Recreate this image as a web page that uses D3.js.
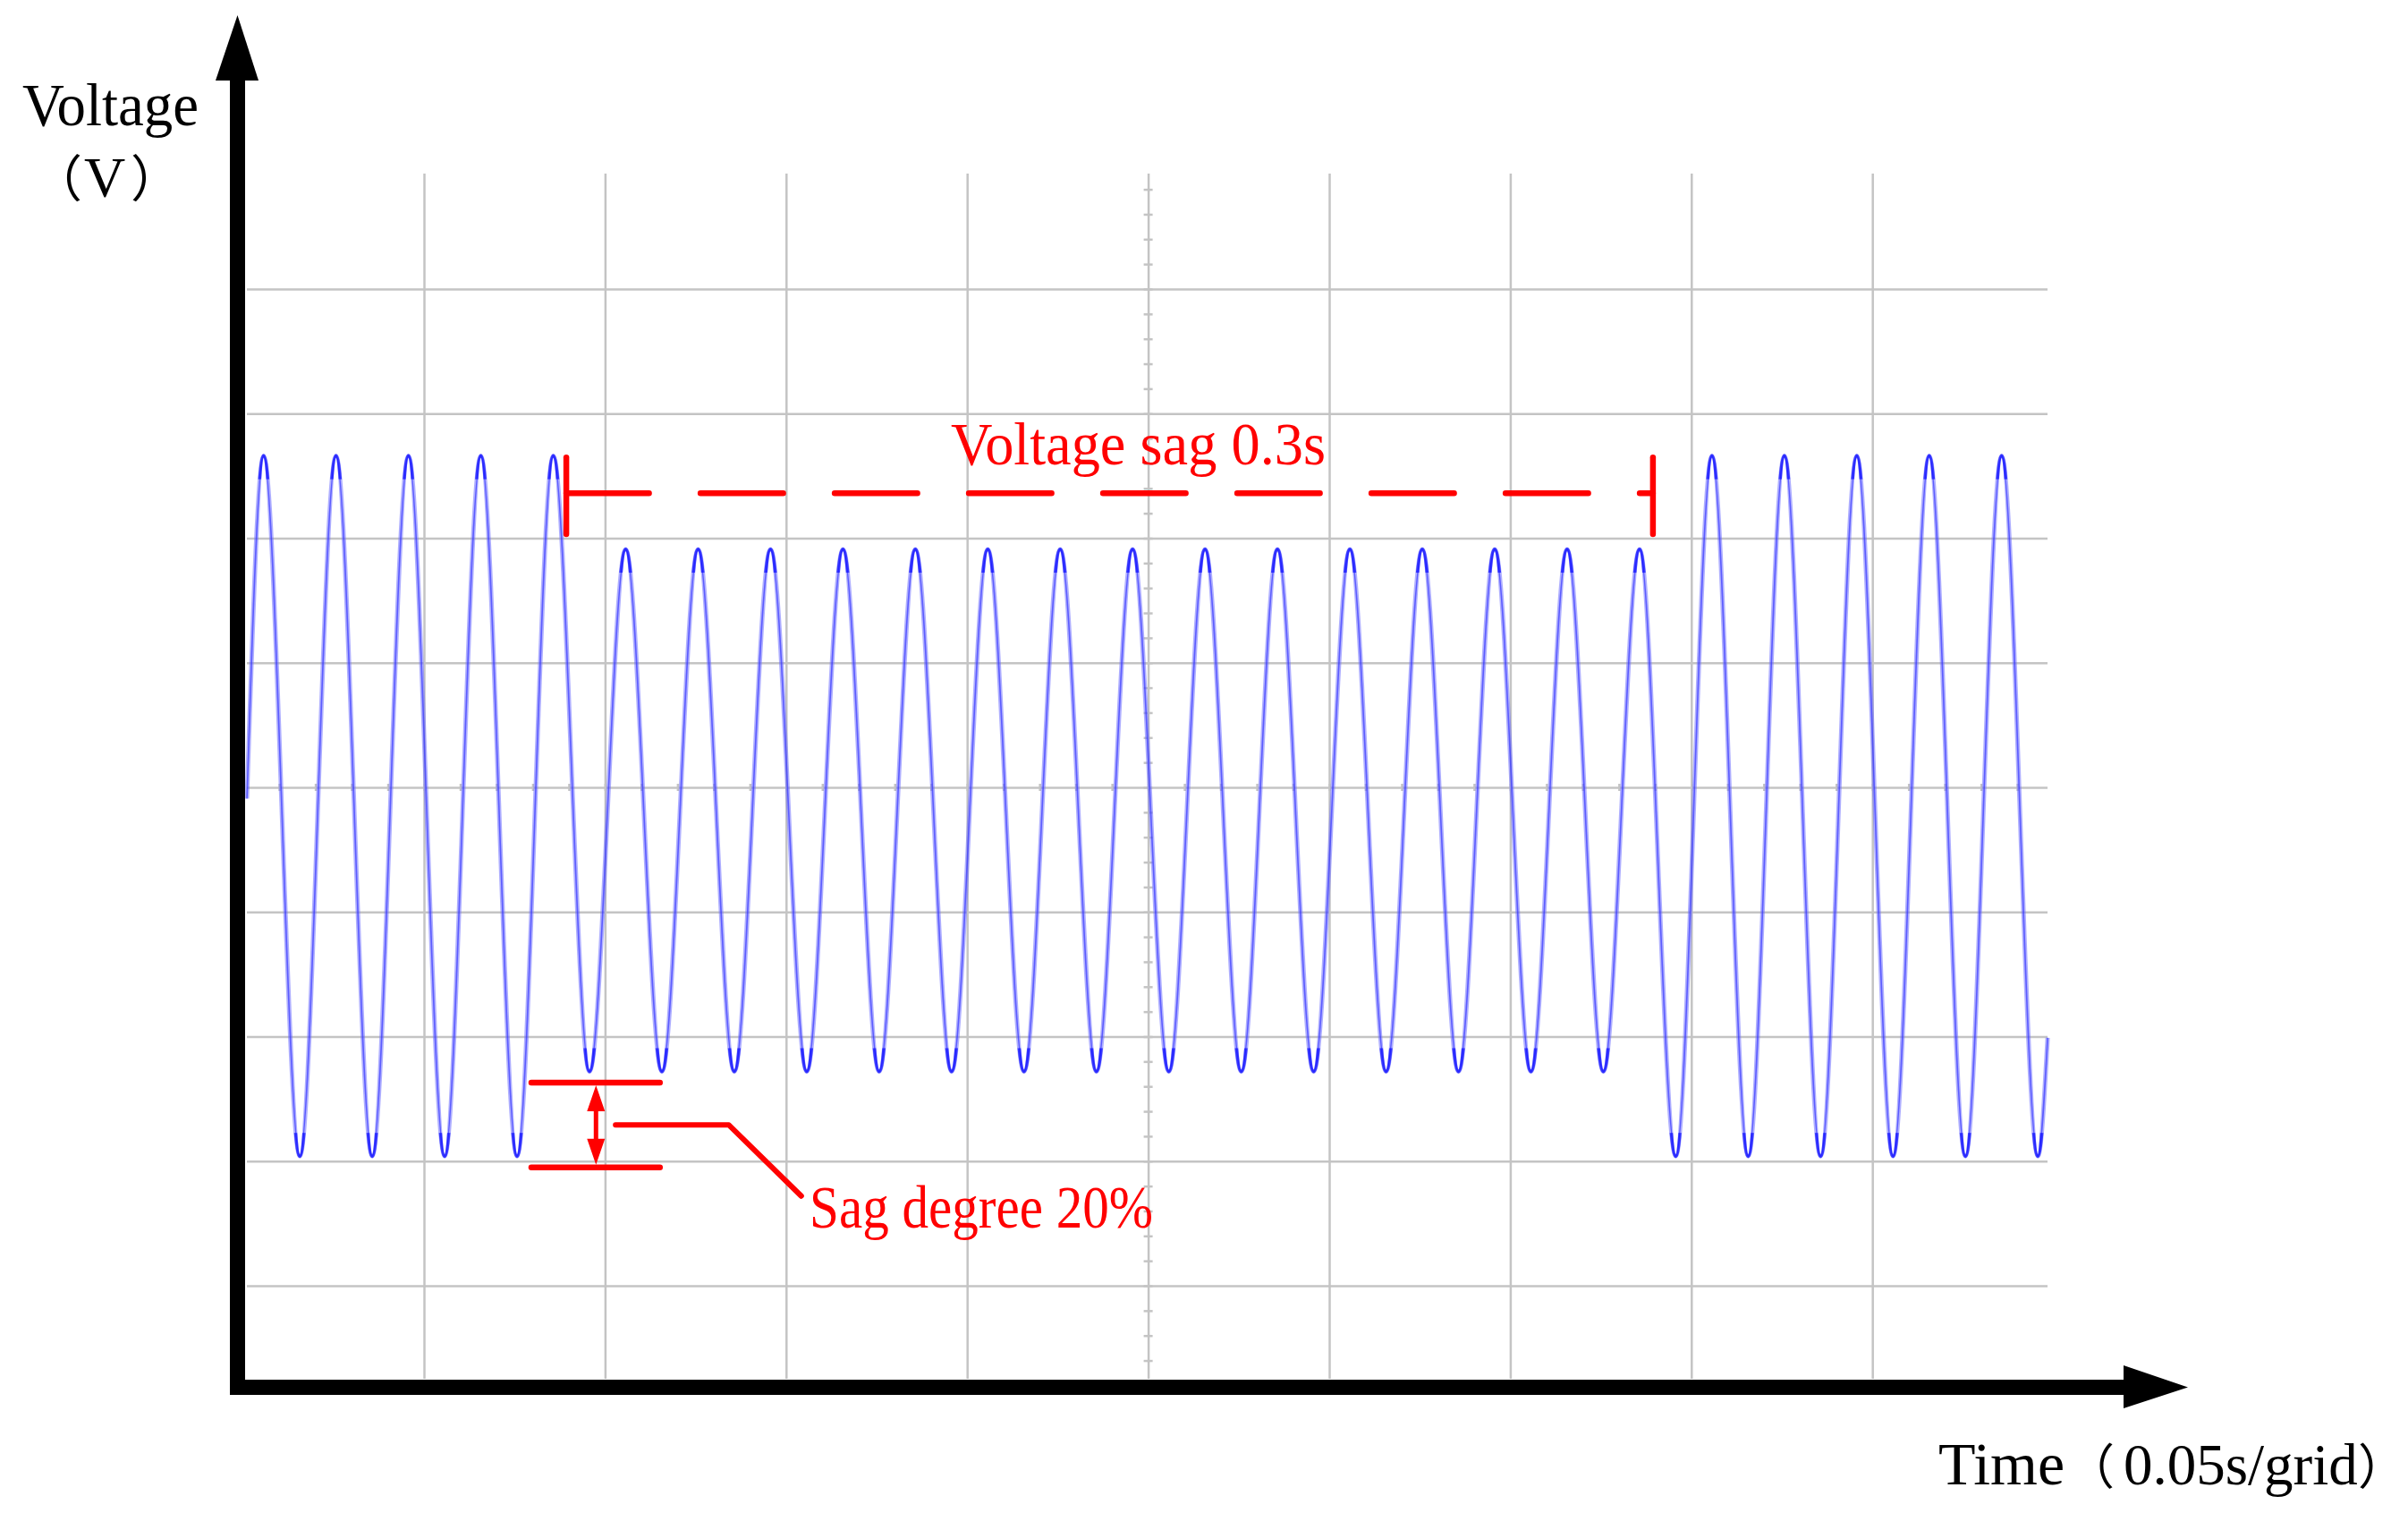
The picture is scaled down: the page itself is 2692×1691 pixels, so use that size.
<!DOCTYPE html>
<html>
<head>
<meta charset="utf-8">
<script src="https://cdn.jsdelivr.net/npm/d3@7"></script>
<style>
  html, body { margin: 0; padding: 0; background: #fff; }
  svg { display: block; }
</style>
</head>
<body>
<div id="chart"></div>
<script>
// ---- data (time in s, voltage in V, 100 V per grid) ----
const peakTimes = [0.0057, 0.0257, 0.0457, 0.0657, 0.0857, 0.1057, 0.1257, 0.1457, 0.1657, 0.1857,
  0.2057, 0.2257, 0.2457, 0.2657, 0.2857, 0.3057, 0.3257, 0.3457, 0.3657, 0.3857,
  0.4057, 0.4257, 0.4457, 0.4657, 0.4857];
const peakVolts = [266, 266, 266, 266, 266, 191, 191, 191, 191, 191,
  191, 191, 191, 191, 191, 191, 191, 191, 191, 191,
  266, 266, 266, 266, 266];
const troughTimes = [0.0157, 0.0357, 0.0557, 0.0757, 0.0957, 0.1157, 0.1357, 0.1557, 0.1757, 0.1957,
  0.2157, 0.2357, 0.2557, 0.2757, 0.2957, 0.3157, 0.3357, 0.3557, 0.3757, 0.3957,
  0.4157, 0.4357, 0.4557, 0.4757, 0.4957];
const troughVolts = [-296, -296, -296, -296, -228, -228, -228, -228, -228, -228,
  -228, -228, -228, -228, -228, -228, -228, -228, -228, -296,
  -296, -296, -296, -296, -296];
// first and last visible sample of the trace
const edgeTimes = [0.0011, 0.4984];
const edgeVolts = [-9, -201];

// grid values
const xGridTimes = [0.05, 0.10, 0.15, 0.20, 0.25, 0.30, 0.35, 0.40, 0.45];
const yGridVolts = [-400, -300, -200, -100, 0, 100, 200, 300, 400];

// annotation values
const sagSpan = [0.0893, 0.3894];       // start / end of the sag (0.3 s)
const sagBarVolts = [201, 267];        // vertical extent of the end bars
const sagLineVolt = 236;               // dashed line level
const degreeSpan = [0.0789, 0.1159];   // horizontal bars of the sag-degree marker
const degreeVolts = [-237, -305];      // upper / lower bar levels
const degreeArrowTime = 0.0975;
const leaderTimes = [0.1029, 0.1342, 0.1542];
const leaderVolts = [-271, -271, -328];

// ---- layout ----
const W = 2692, H = 1691;
const plotLeft = 276, plotRight = 2289, plotTop = 194, plotBottom = 1541;
const red = '#ff0000';
const gridColor = '#c4c4c4';
const serif = '"Liberation Serif", "Times New Roman", serif';
const cjk = '"Noto Sans CJK SC", sans-serif';

const svg = d3.select('#chart').append('svg')
  .attr('width', W)
  .attr('height', H)
  .attr('viewBox', `0 0 ${W} ${H}`);

// scales: 0.05 s and 100 V per grid
const x = d3.scaleLinear().domain([0, 0.5]).range([271.6, 2295.6]);
const y = d3.scaleLinear().domain([-400, 400]).range([1437, 323]);

// ---- grid ----
const gridX = d3.axisBottom(x)
  .tickValues(xGridTimes)
  .tickSize(-(plotBottom - plotTop))
  .tickFormat('');
svg.append('g')
  .attr('transform', `translate(0, ${plotBottom})`)
  .call(gridX)
  .call(g => g.select('.domain').remove())
  .call(g => g.selectAll('line').attr('stroke', gridColor).attr('stroke-width', 2.5));

const gridY = d3.axisLeft(y)
  .tickValues(yGridVolts)
  .tickSize(-(plotRight - plotLeft))
  .tickFormat('');
svg.append('g')
  .attr('transform', `translate(${plotLeft}, 0)`)
  .call(gridY)
  .call(g => g.select('.domain').remove())
  .call(g => g.selectAll('line').attr('stroke', gridColor).attr('stroke-width', 2.5));

// minor ticks on the centre cross (1/5 grid)
const minorV = d3.range(-460, 481, 20);
svg.append('g')
  .attr('transform', `translate(${x(0.25) + 5}, 0)`)
  .call(d3.axisLeft(y).tickValues(minorV).tickSize(10).tickFormat(''))
  .call(g => g.select('.domain').remove())
  .call(g => g.selectAll('line').attr('stroke', gridColor).attr('stroke-width', 2.5));

const minorT = d3.range(0.01, 0.495, 0.01);
svg.append('g')
  .attr('transform', `translate(0, ${y(0) + 4})`)
  .call(d3.axisTop(x).tickValues(minorT).tickSize(8).tickFormat(''))
  .call(g => g.select('.domain').remove())
  .call(g => g.selectAll('line').attr('stroke', gridColor).attr('stroke-width', 2.5));

// ---- voltage trace ----
const peaks = peakTimes.map((t, i) => ({ t, v: peakVolts[i], up: true }));
const troughs = troughTimes.map((t, i) => ({ t, v: troughVolts[i], up: false }));
const trace = d3.merge([
  peaks,
  troughs,
  edgeTimes.map((t, i) => ({ t, v: edgeVolts[i] }))
]).sort((a, b) => a.t - b.t);

const line = d3.line()
  .x(d => x(d.t))
  .y(d => y(d.v))
  .curve(d3.curveMonotoneX);

// the trace is densest at the turning points, so darken it there
const clip = svg.append('defs').append('clipPath').attr('id', 'tips');
clip.selectAll('rect')
  .data(peaks.concat(troughs))
  .join('rect')
  .attr('x', d => x(d.t) - 14)
  .attr('width', 28)
  .attr('y', d => d.up ? y(d.v) - 12 : y(d.v) - 26)
  .attr('height', 38);

svg.append('path')
  .datum(trace)
  .attr('d', line)
  .attr('fill', 'none')
  .attr('stroke', '#6e6eff')
  .attr('stroke-width', 5)
  .attr('stroke-opacity', 0.55);

svg.append('path')
  .datum(trace)
  .attr('d', line)
  .attr('fill', 'none')
  .attr('stroke', '#2424ff')
  .attr('stroke-width', 1.6)
  .attr('stroke-opacity', 0.6);

svg.append('path')
  .datum(trace)
  .attr('d', line)
  .attr('clip-path', 'url(#tips)')
  .attr('fill', 'none')
  .attr('stroke', '#1010ff')
  .attr('stroke-width', 4)
  .attr('stroke-opacity', 0.75);

// ---- axes with arrows ----
svg.append('rect')
  .attr('x', 257).attr('y', 88)
  .attr('width', 17).attr('height', 1559 - 88)
  .attr('fill', '#000');
svg.append('path')
  .attr('d', 'M241,90 L289,90 L265.5,17 Z')
  .attr('fill', '#000');

svg.append('rect')
  .attr('x', 257).attr('y', 1542)
  .attr('width', 2378 - 257).attr('height', 17)
  .attr('fill', '#000');
svg.append('path')
  .attr('d', 'M2374,1526 L2374,1574 L2446,1550.5 Z')
  .attr('fill', '#000');

// axis titles
svg.append('text')
  .attr('x', 25).attr('y', 140)
  .attr('textLength', 197).attr('lengthAdjust', 'spacingAndGlyphs')
  .style('font-family', serif).style('font-size', '68px')
  .text('Voltage');

const unitY = svg.append('text')
  .attr('y', 220)
  .style('font-family', serif).style('font-size', '64px');
unitY.append('tspan').attr('x', 36).style('font-family', cjk).style('font-size', '56px').text('（');
unitY.append('tspan').attr('x', 94).text('V');
unitY.append('tspan').attr('x', 146).style('font-family', cjk).style('font-size', '56px').text('）');

const timeLabel = svg.append('text')
  .attr('y', 1659)
  .style('font-family', serif).style('font-size', '68px');
timeLabel.append('tspan').attr('x', 2167).text('Time');
timeLabel.append('tspan').attr('x', 2310).style('font-family', cjk).style('font-size', '54px').text('（');
timeLabel.append('tspan').attr('x', 2374).style('font-size', '65px').text('0.05s/grid');
timeLabel.append('tspan').attr('x', 2636).style('font-family', cjk).style('font-size', '54px').text('）');

// ---- sag duration annotation ----
const ann = svg.append('g')
  .attr('stroke', red)
  .attr('fill', 'none')
  .attr('stroke-linecap', 'round');

ann.append('line')
  .attr('x1', x(sagSpan[0])).attr('x2', x(sagSpan[1]))
  .attr('y1', y(sagLineVolt)).attr('y2', y(sagLineVolt))
  .attr('stroke-width', 6.5)
  .attr('stroke-dasharray', '92.5,57.5');

sagSpan.forEach(t => {
  ann.append('line')
    .attr('x1', x(t)).attr('x2', x(t))
    .attr('y1', y(sagBarVolts[0]) - 3).attr('y2', y(sagBarVolts[1]) + 3)
    .attr('stroke-width', 6.5);
});

svg.append('text')
  .attr('x', x(0.1955)).attr('y', y(259))
  .attr('textLength', 419).attr('lengthAdjust', 'spacingAndGlyphs')
  .attr('fill', red)
  .style('font-family', serif).style('font-size', '68px')
  .text('Voltage sag 0.3s');

// ---- sag degree annotation ----
degreeVolts.forEach(v => {
  ann.append('line')
    .attr('x1', x(degreeSpan[0]) + 3).attr('x2', x(degreeSpan[1]) - 3)
    .attr('y1', y(v)).attr('y2', y(v))
    .attr('stroke-width', 6.5);
});

const ax = x(degreeArrowTime);
const aTop = y(degreeVolts[0]) + 3, aBot = y(degreeVolts[1]) - 3;
ann.append('line')
  .attr('x1', ax).attr('x2', ax)
  .attr('y1', aTop + 20).attr('y2', aBot - 20)
  .attr('stroke-width', 5)
  .attr('stroke-linecap', 'butt');
svg.append('path')
  .attr('d', `M${ax},${aTop} L${ax - 10},${aTop + 29} L${ax + 10},${aTop + 29} Z` +
    `M${ax},${aBot} L${ax - 10},${aBot - 29} L${ax + 10},${aBot - 29} Z`)
  .attr('fill', red);

ann.append('path')
  .datum(leaderTimes.map((t, i) => [t, leaderVolts[i]]))
  .attr('d', d3.line().x(d => x(d[0])).y(d => y(d[1])))
  .attr('stroke-width', 6)
  .attr('stroke-linejoin', 'round');

svg.append('text')
  .attr('x', x(0.1565)).attr('y', y(-353))
  .attr('textLength', 384).attr('lengthAdjust', 'spacingAndGlyphs')
  .attr('fill', red)
  .style('font-family', serif).style('font-size', '68px')
  .text('Sag degree 20%');
</script>
</body>
</html>
